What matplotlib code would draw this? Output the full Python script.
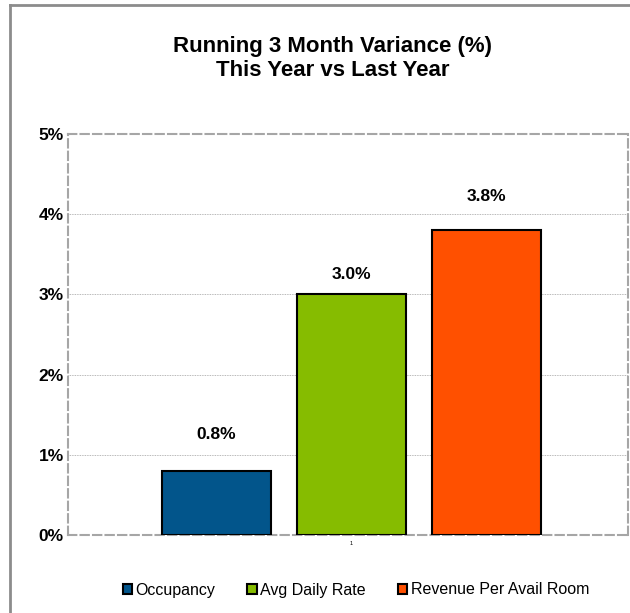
import matplotlib.pyplot as plt
from matplotlib.lines import Line2D

# Data
series = ["Occupancy", "Avg Daily Rate", "Revenue Per Avail Room"]
values = [0.8, 3.0, 3.8]
colors = ["#02558b", "#86bc00", "#ff5000"]
label_offsets = [36, 20, 34]  # px above bar top, as in the source
yticks = [0, 1, 2, 3, 4, 5]

plt.rcParams['font.family'] = ['Liberation Sans', 'DejaVu Sans']

fig = plt.figure(figsize=(6.3, 6.13), dpi=100)
ax = fig.add_axes([68 / 630, 1 - 535 / 613, 560 / 630, 401 / 613])

positions = [-1, 0, 1]
bars = ax.bar(positions, values, width=0.807, color=colors, edgecolor="black",
              linewidth=1.5, label=series, zorder=3)

for x, v, off in zip(positions, values, label_offsets):
    ax.annotate(f"{v:.1f}%", (x, v), xytext=(0, off), textcoords="offset pixels",
                ha="center", va="center", fontsize=12.5, fontweight="bold")

ax.set_xlim(-2.1, 2.05)
ax.set_ylim(0, 5)
ax.set_yticks(yticks)
ax.set_yticklabels([f"{t}%" for t in yticks], fontsize=12.5, fontweight="bold")
ax.tick_params(axis="y", length=0, pad=3)
ax.set_xticks([0])
ax.set_xticklabels(["1"], fontsize=4)
ax.tick_params(axis="x", length=0, pad=4)

for t in yticks[1:-1]:
    ax.axhline(t, color="#a0a0a0", linewidth=0.6, linestyle=(0, (1, 1)), zorder=1)

for s in ax.spines.values():
    s.set_color("#a6a6a6")
    s.set_linewidth(1.5)
    s.set_linestyle((0, (4, 2)))

# title
fig.text(0.528, 1 - 58.5 / 613, "Running 3 Month Variance (%)\nThis Year vs Last Year",
         ha="center", va="center", fontsize=16, fontweight="bold", linespacing=1.2)

# legend
fig.legend(handles=bars, labels=series, loc="center", bbox_to_anchor=(0.565, 1 - 590 / 613),
           ncol=3, frameon=False, fontsize=11.5, handlelength=0.6, handleheight=0.6,
           handletextpad=0.2, columnspacing=2.0)

# outer chart frame (cropped at right and bottom)
fig.add_artist(Line2D([10 / 630, 10 / 630], [0, 1 - 5 / 613], color="#8c8c8c", linewidth=2,
                      transform=fig.transFigure))
fig.add_artist(Line2D([10 / 630, 1], [1 - 5 / 613, 1 - 5 / 613], color="#8c8c8c", linewidth=2,
                      transform=fig.transFigure))

fig.savefig("out.png", dpi=100)
